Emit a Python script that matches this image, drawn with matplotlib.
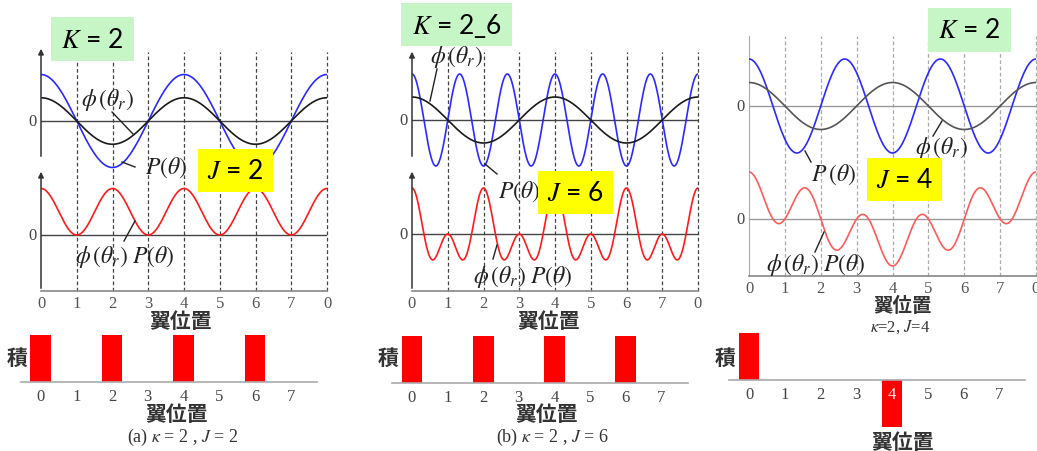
import numpy as np
import matplotlib
matplotlib.use("Agg")
import matplotlib.pyplot as plt
from matplotlib.lines import Line2D
from matplotlib.patches import Rectangle

plt.rcParams['font.family'] = ['Liberation Serif', 'Noto Sans CJK JP', 'DejaVu Sans']
plt.rcParams['mathtext.fontset'] = 'stix'

W, H = 1037, 452

# --- data ---
K_vals = [2, 2, 2]                 # cycles of phi(theta_r) over one revolution
J_vals = [2, 6, 3]                 # cycles of P(theta) as drawn
phi_amp = 0.5
blade_labels = ['0', '1', '2', '3', '4', '5', '6', '7', '0']
bar_pos = [0, 1, 2, 3, 4, 5, 6, 7]
bars_a = [1, 0, 1, 0, 1, 0, 1, 0]
bars_b = [1, 0, 1, 0, 1, 0, 1, 0]
bars_c = [1, 0, 0, 0, -1, 0, 0, 0]
K_text = ['2', '2_6', '2']
J_text = ['2', '6', '4']
captions = [r'(a) $\kappa$ = 2 , $J$ = 2', r'(b) $\kappa$ = 2 , $J$ = 6']
caption_c = r'$\kappa$=2, $J$=4'
xlabel = '翼位置'

# --- layout (pixels) ---
x0s = [41, 412, 749]
x8s = [327, 698, 1036]
zero_up = [122, 121, 107]
zero_lo = [236, 235, 220]
amp_px = [46.5, 46, 47]
ax_top = [40, 40, 37]
ax_bot = [292, 292, 277]
arrow_tip = [47, 50]
green_boxes = [(51, 18, 134, 62), (401, 4, 512, 47), (928, 9, 1011, 53)]
yellow_boxes = [(198, 150, 273, 193), (538, 172, 613, 215), (867, 159, 942, 202)]

fig = plt.figure(figsize=(W / 100, H / 100), dpi=100)


def px_axes(left, top, right, bottom):
    return fig.add_axes([left / W, 1 - bottom / H, (right - left) / W, (bottom - top) / H])


def ftext(x, y, s, **kw):
    kw.setdefault('ha', 'center')
    kw.setdefault('va', 'center')
    fig.text(x / W, 1 - y / H, s, **kw)


def fline(x1, y1, x2, y2, color='#222', lw=1.0):
    fig.add_artist(Line2D([x1 / W, x2 / W], [1 - y1 / H, 1 - y2 / H],
                          transform=fig.transFigure, color=color, lw=lw))


def fbox(box, color, label):
    l, t, r, b = box
    fig.add_artist(Rectangle((l / W, 1 - b / H), (r - l) / W, (b - t) / H,
                             transform=fig.transFigure, facecolor=color,
                             edgecolor='none', zorder=5))
    fig.text((l + r) / 2 / W, 1 - (t + b) / 2 / H, label, ha='center', va='center',
             fontsize=19, family=['Lato', 'DejaVu Sans'], color='black', zorder=6)


x = np.linspace(0, 8, 600)

for i in range(3):
    zu, zl, amp = zero_up[i], zero_lo[i], amp_px[i]
    top, bot = ax_top[i], ax_bot[i]
    light = (i == 2)
    ax = px_axes(x0s[i], top, x8s[i], bot)
    ax.set_xlim(0, 8)
    ax.set_ylim((zu - bot) / amp, (zu - top) / amp)
    y_lo = -(zl - zu) / amp

    phi = phi_amp * np.cos(2 * np.pi * K_vals[i] * x / 8)
    p = np.cos(2 * np.pi * J_vals[i] * x / 8)
    prod = np.cos(2 * np.pi * K_vals[i] * x / 8) * p

    grid_c = '#aaaaaa' if light else '#444444'
    zero_c = '#999999' if light else '#444444'
    dash_top = (zu - (top if light else 53)) / amp
    for k in range(1, 9):
        ax.plot([k, k], [ax.get_ylim()[0], dash_top], color=grid_c, lw=0.9,
                ls=(0, (3, 2)), clip_on=False, zorder=1)
    ax.axhline(0, color=zero_c, lw=1, zorder=1)
    ax.axhline(y_lo, color=zero_c, lw=1, zorder=1)

    ax.plot(x, p, color='#2a2aff', lw=1.2, zorder=3)
    ax.plot(x, phi, color='#555555' if light else '#1a1a1a', lw=1.2, zorder=3)
    ax.plot(x, y_lo + prod, color='#ff5a5a' if light else '#ff1a1a', lw=1.2, zorder=3)

    for s in ['top', 'right', 'left']:
        ax.spines[s].set_visible(False)
    ax.spines['bottom'].set_color('#888888')
    ax.spines['bottom'].set_linewidth(1.2)
    ax.set_yticks([])
    ax.set_xticks(range(9))
    ax.set_xticklabels(blade_labels, fontsize=12, color='#555555')
    ax.tick_params(axis='x', length=0, pad=3)

    if light:
        ax.spines['left'].set_visible(True)
        ax.spines['left'].set_color('#aaaaaa')
    else:
        arrow = dict(arrowstyle='-|>', color='#333333', lw=1.1, mutation_scale=8)
        ax.annotate('', xy=(0, (zu - arrow_tip[i]) / amp), xytext=(0, (zu - 160) / amp),
                    arrowprops=arrow, annotation_clip=False)
        ax.annotate('', xy=(0, (zu - 170) / amp), xytext=(0, ax.get_ylim()[0]),
                    arrowprops=arrow, annotation_clip=False)

    ftext(x0s[i] - 4, zu, '0', ha='right', fontsize=12, color='#444444')
    ftext(x0s[i] - 4, zl, '0', ha='right', fontsize=12, color='#444444')

    fbox(green_boxes[i], '#c6f6c6', r'$K$ = ' + K_text[i])
    fbox(yellow_boxes[i], '#ffff00', r'$J$ = ' + J_text[i])

# curve labels and leader lines
lab = dict(fontsize=17, color='#222222')
ftext(108, 100, r'$\phi\,(\theta_r)$', **lab)
fline(112, 113, 133, 135)
ftext(166, 168, r'$P(\theta)$', **lab)
fline(122, 163, 135, 168)
ftext(125, 257, r'$\phi\,(\theta_r)\;P(\theta)$', **lab)
fline(135, 222, 124, 242)

ftext(457, 57, r'$\phi\,(\theta_r)$', **lab)
fline(437, 70, 430, 102)
ftext(498, 192, r'$P(\theta)$', ha='left', **lab)
fline(485, 165, 497, 175)
ftext(523, 277, r'$\phi\,(\theta_r)\;P(\theta)$', **lab)
fline(497, 246, 493, 260)

ftext(834, 175, r'$P\,(\theta)$', **lab)
fline(805, 152, 811, 163)
ftext(942, 148, r'$\phi\,(\theta_r)$', **lab)
fline(942, 122, 933, 137)
ftext(816, 265, r'$\phi\,(\theta_r)\;P(\theta)$', **lab)
fline(824, 233, 815, 253)

# axis names under the curve panels
cjk = dict(family=['Noto Sans CJK JP', 'DejaVu Sans'], fontsize=15, weight='bold', color='#333333')
ftext(180, 321, xlabel, **cjk)
ftext(548, 321, xlabel, **cjk)
ftext(902, 306, xlabel, family=['Noto Sans CJK JP', 'DejaVu Sans'], fontsize=14,
      weight='bold', color='#333333')
ftext(900, 327, caption_c, fontsize=12, color='#333333')

# --- bar charts of the products at each blade ---
bar_left = [21, 392, 729]
bar_right = [317, 688, 1025]
bar_zero = [40.5, 412, 749]
bar_unit = [35.75, 35.6, 35.75]
bar_base = [383, 384, 381]
bar_h = 47
bar_vals = [bars_a, bars_b, bars_c]

for i in range(3):
    bx = px_axes(bar_left[i], 325, bar_right[i], 435)
    bx.set_xlim((bar_left[i] - bar_zero[i]) / bar_unit[i], (bar_right[i] - bar_zero[i]) / bar_unit[i])
    bx.set_ylim(-(435 - bar_base[i]) / bar_h, (bar_base[i] - 325) / bar_h)
    bx.bar(bar_pos, bar_vals[i], width=0.58, color='#ff0000', zorder=1)
    for s in ['top', 'right', 'left']:
        bx.spines[s].set_visible(False)
    bx.spines['bottom'].set_position(('data', 0))
    bx.spines['bottom'].set_color('#aaaaaa')
    bx.spines['bottom'].set_linewidth(1.2)
    bx.set_yticks([])
    bx.set_xticks(bar_pos)
    bx.set_xticklabels([str(v) for v in bar_pos], fontsize=12, color='#444444')
    bx.tick_params(axis='x', length=0, pad=4)
    if i == 2:
        bx.get_xticklabels()[4].set_color('white')
    ftext(bar_left[i] - 4, 358, '積', **cjk)

ftext(177, 415, xlabel, **cjk)
ftext(547, 415, xlabel, **cjk)
ftext(902, 443, xlabel, **cjk)
ftext(183, 437, captions[0], fontsize=13, color='#333333')
ftext(552, 437, captions[1], fontsize=13, color='#333333')

fig.savefig('out.png', dpi=100)
